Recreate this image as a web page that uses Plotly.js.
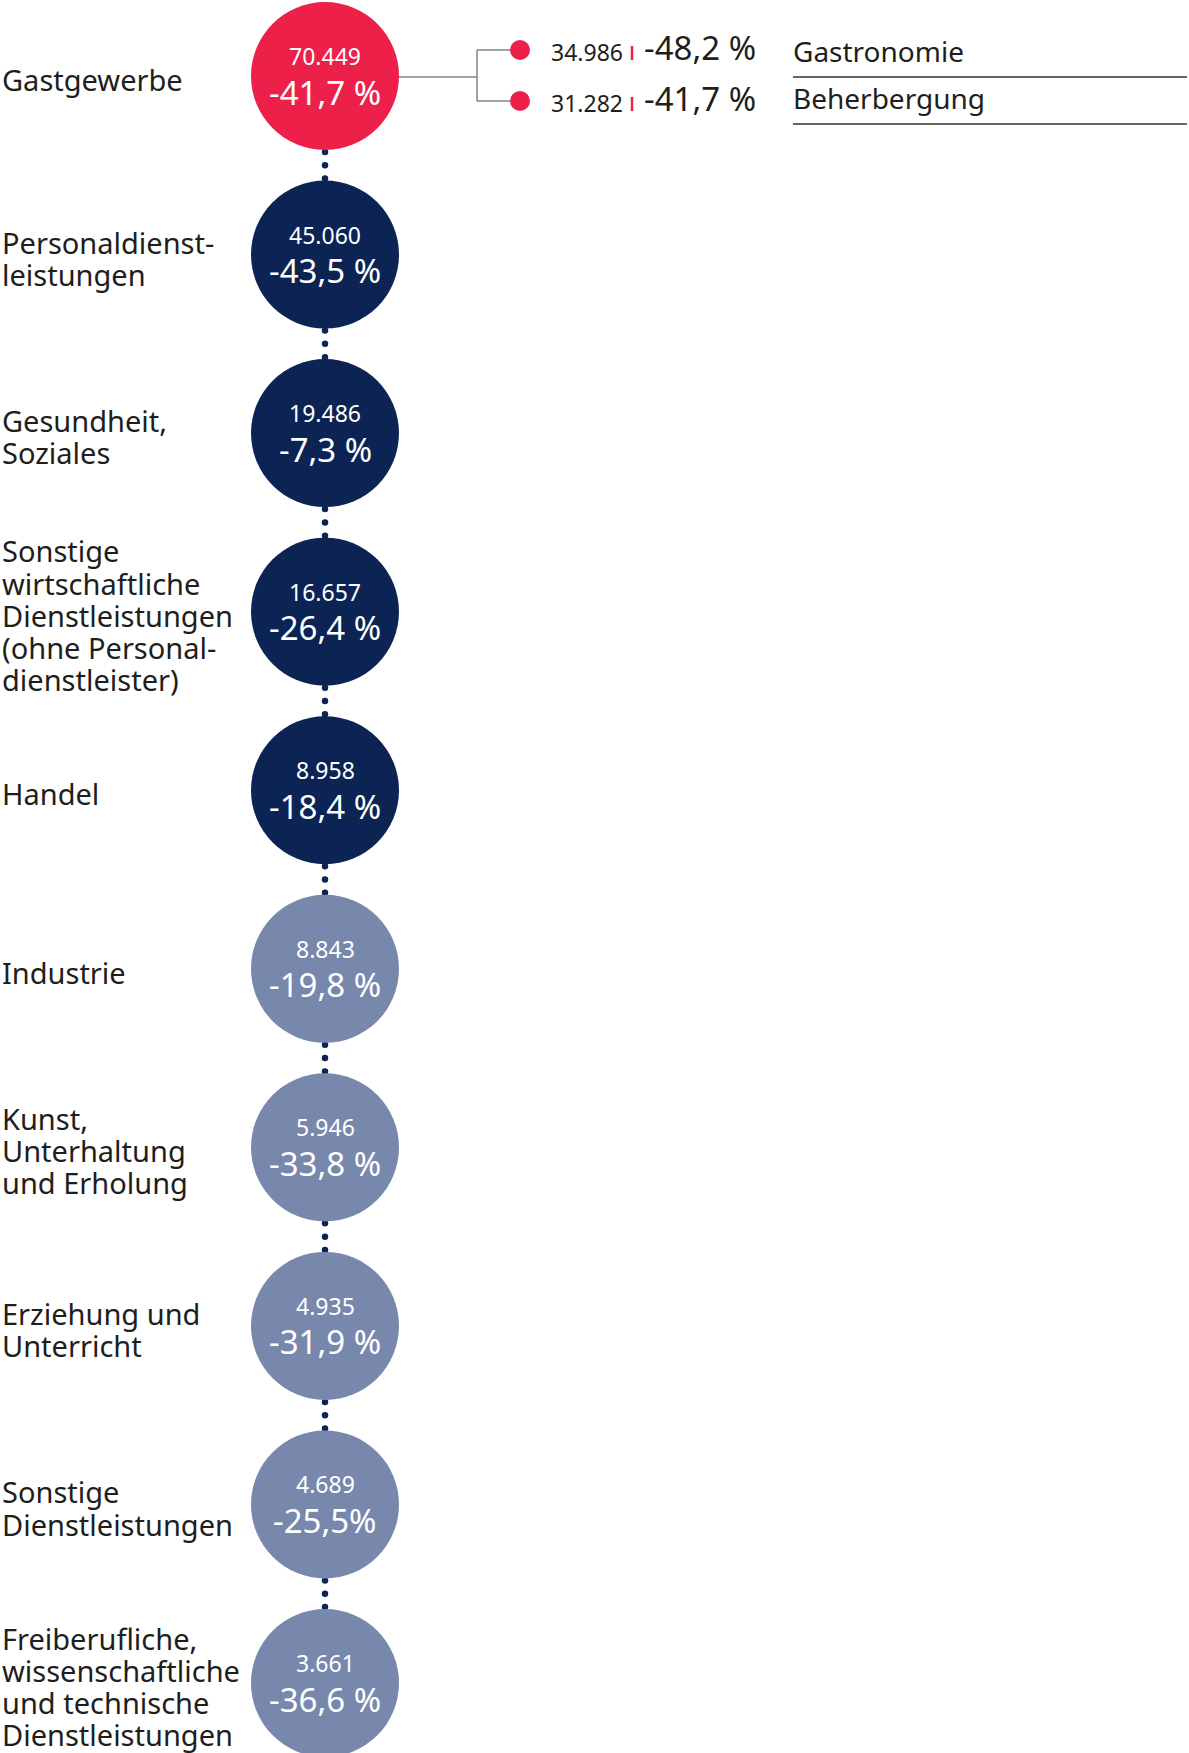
<!DOCTYPE html>
<html>
<head>
<meta charset="utf-8">
<script src="https://cdn.plot.ly/plotly-3.0.1.min.js"></script>
<style>
  html, body { margin: 0; padding: 0; background: #ffffff; }
  #chart { width: 1189px; height: 1753px; }
</style>
</head>
<body>
<div id="chart"></div>
<script>
// ---------------- DATA ----------------
const categories = [
  ["Gastgewerbe"],
  ["Personaldienst-", "leistungen"],
  ["Gesundheit,", "Soziales"],
  ["Sonstige", "wirtschaftliche", "Dienstleistungen", "(ohne Personal-", "dienstleister)"],
  ["Handel"],
  ["Industrie"],
  ["Kunst,", "Unterhaltung", "und Erholung"],
  ["Erziehung und", "Unterricht"],
  ["Sonstige", "Dienstleistungen"],
  ["Freiberufliche,", "wissenschaftliche", "und technische", "Dienstleistungen"]
];
const values = [70449, 45060, 19486, 16657, 8958, 8843, 5946, 4935, 4689, 3661];
const changeLabels = ["-41,7 %", "-43,5 %", "-7,3 %", "-26,4 %", "-18,4 %",
                      "-19,8 %", "-33,8 %", "-31,9 %", "-25,5%", "-36,6 %"];
const tiers = ["highlight", "dark", "dark", "dark", "dark",
               "light", "light", "light", "light", "light"];

const subNames = ["Gastronomie", "Beherbergung"];
const subValues = [34986, 31282];
const subChangeLabels = ["-48,2 %", "-41,7 %"];

// ---------------- STYLE ----------------
const W = 1189, H = 1753;
const STEP = 178.56;        // px per category
const TOP = 76;             // px of first circle centre
const CX = 325;             // circle centre x
const R = 74;               // circle radius px
const RED = "#EC2049", NAVY = "#0B2454", LIGHT = "#7888AD";
const TEXT = "#1E1E1C";
const FONT = "Noto Sans, Open Sans, sans-serif";
const tierColor = { highlight: RED, dark: NAVY, light: LIGHT };

const px = d => d / STEP;   // pixel offset -> axis units
const fmt = v => v.toLocaleString("de-DE");

const n = values.length;
const idx = values.map((_, i) => i);

// dotted connectors between circles
const dotY = [];
for (let i = 0; i < n - 1; i++) {
  [-13.3, 0, 13.3].forEach(o => dotY.push(i + 0.5 + px(o)));
}

const traces = [
  {
    type: "scatter", mode: "markers", hoverinfo: "skip",
    x: dotY.map(() => CX), y: dotY,
    marker: { size: 6.5, color: NAVY, line: { width: 0 } }
  },
  {
    type: "scatter", mode: "markers", hoverinfo: "skip",
    x: idx.map(() => CX), y: idx,
    marker: { size: 2 * R, color: tiers.map(t => tierColor[t]), line: { width: 0 }, opacity: 1 }
  }
];

// sub-items of first category
const SUBGAP = 51, NAMEGAP = 47;
const subY = subNames.map((_, k) => 0 + px((k - 0.5) * SUBGAP - 0.5));
const nameY = subNames.map((_, k) => 0 + px((k - 0.5) * NAMEGAP - 0.5));
const SUBDOTX = 520, BRANCHX = 477;
traces.push({
  type: "scatter", mode: "markers", hoverinfo: "skip",
  x: subY.map(() => SUBDOTX), y: subY,
  marker: { size: 20, color: RED, line: { width: 0 } }
});

const annotations = [];
const shapes = [];

// left labels
const LINE = 32.1;
categories.forEach((lines, i) => {
  const m = lines.length;
  lines.forEach((t, k) => {
    annotations.push({
      x: 0, xref: "x", y: i, yref: "y",
      yshift: -((k - (m - 1) / 2) * LINE) - 3.5,
      text: t, showarrow: false, xanchor: "left", yanchor: "middle",
      font: { family: FONT, size: 29, color: TEXT }
    });
  });
});

// circle texts
idx.forEach(i => {
  annotations.push({
    x: CX, xref: "x", y: i, yref: "y", yshift: 20,
    text: fmt(values[i]), showarrow: false, xanchor: "center", yanchor: "middle",
    font: { family: FONT, size: 23, color: "#ffffff" }
  });
  annotations.push({
    x: CX, xref: "x", y: i, yref: "y", yshift: -16,
    text: changeLabels[i], showarrow: false, xanchor: "center", yanchor: "middle",
    font: { family: FONT, size: 33, color: "#ffffff" }
  });
});

// branch connector
const GREY = "#858585";
shapes.push({ type: "line", xref: "x", yref: "y", x0: CX + R - 2, x1: BRANCHX, y0: 0 + px(1), y1: 0 + px(1),
              line: { color: GREY, width: 1.5 }, layer: "below" });
shapes.push({ type: "line", xref: "x", yref: "y", x0: BRANCHX, x1: BRANCHX, y0: subY[0], y1: subY[1],
              line: { color: GREY, width: 1.5 }, layer: "below" });
subY.forEach(y => {
  shapes.push({ type: "line", xref: "x", yref: "y", x0: BRANCHX, x1: SUBDOTX, y0: y, y1: y,
                line: { color: GREY, width: 1.5 }, layer: "below" });
});

// sub texts
subNames.forEach((name, k) => {
  const y = subY[k];
  annotations.push({
    x: 549, xref: "x", y: y, yref: "y", yshift: -2,
    text: fmt(subValues[k]), showarrow: false, xanchor: "left", yanchor: "middle",
    font: { family: FONT, size: 23, color: TEXT }
  });
  shapes.push({ type: "line", xref: "x", yref: "y", x0: 632, x1: 632,
                y0: y + px(-4), y1: y + px(10), line: { color: RED, width: 2.5 } });
  annotations.push({
    x: 642, xref: "x", y: y, yref: "y", yshift: 3,
    text: subChangeLabels[k], showarrow: false, xanchor: "left", yanchor: "middle",
    font: { family: FONT, size: 33, color: TEXT }
  });
  annotations.push({
    x: 791, xref: "x", y: nameY[k], yref: "y", yshift: 1,
    text: name, showarrow: false, xanchor: "left", yanchor: "middle",
    font: { family: FONT, size: 28, color: TEXT }
  });
  shapes.push({ type: "line", xref: "x", yref: "y", x0: 793, x1: 1187,
                y0: nameY[k] + px(25), y1: nameY[k] + px(25), line: { color: "#333333", width: 1.5 } });
});

const layout = {
  width: W, height: H,
  margin: { l: 0, r: 0, t: 0, b: 0, pad: 0 },
  paper_bgcolor: "#ffffff", plot_bgcolor: "#ffffff",
  showlegend: false,
  xaxis: { range: [0, W], visible: false, fixedrange: true },
  yaxis: { range: [(H - TOP) / STEP, -TOP / STEP], visible: false, fixedrange: true },
  annotations: annotations,
  shapes: shapes,
  hovermode: false
};

Plotly.newPlot("chart", traces, layout, { staticPlot: true, displayModeBar: false });
</script>
</body>
</html>
